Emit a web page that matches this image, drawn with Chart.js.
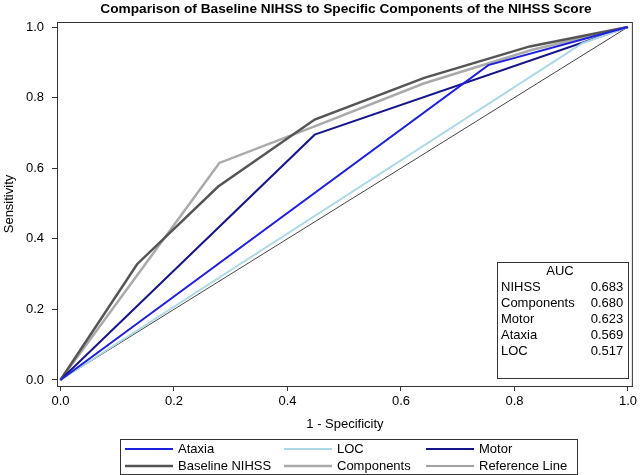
<!DOCTYPE html>
<html>

<head>
    <title>Comparison of Baseline NIHSS</title>
    <meta charset="utf-8">
    <style>
        body { margin: 0; background: #fff; }
    </style>
</head>

<body>
    <canvas id="rocChart" width="640" height="475"></canvas>

    <script src="https://cdn.jsdelivr.net/npm/chart.js"></script>
    <script>
        // ROC curves: x = 1 - specificity, y = sensitivity
        const ataxiaX = [0, 0.754, 1];
        const ataxiaY = [0, 0.892, 1];
        const locX = [0, 0.92, 1];
        const locY = [0, 0.954, 1];
        const motorX = [0, 0.448, 1];
        const motorY = [0, 0.695, 1];
        const nihssX = [0, 0.135, 0.278, 0.448, 0.641, 0.827, 1];
        const nihssY = [0, 0.328, 0.548, 0.738, 0.856, 0.945, 1];
        const compX = [0, 0.28, 0.45, 0.64, 0.83, 1];
        const compY = [0, 0.615, 0.72, 0.84, 0.935, 1];
        const refX = [0, 1];
        const refY = [0, 1];

        const seriesNames = ["Ataxia", "LOC", "Motor", "Baseline NIHSS", "Components", "Reference Line"];

        // AUC inset table
        const aucLabels = ["NIHSS", "Components", "Motor", "Ataxia", "LOC"];
        const aucValues = ["0.683", "0.680", "0.623", "0.569", "0.517"];

        const tickValues = [0, 0.2, 0.4, 0.6, 0.8, 1.0];

        const FONT = "'Liberation Sans', Arial, sans-serif";

        function pts(xs, ys) {
            return xs.map((x, i) => ({ x: x, y: ys[i] }));
        }

        function line(label, xs, ys, color, width) {
            return {
                label: label,
                data: pts(xs, ys),
                showLine: true,
                borderColor: color,
                backgroundColor: color,
                borderWidth: width,
                pointRadius: 0,
                tension: 0
            };
        }

        // title, frame, axis titles, legend and AUC box
        const decorations = {
            id: "decorations",
            afterDraw(chart) {
                const ctx = chart.ctx;
                const a = chart.chartArea;
                ctx.save();

                // frame round the plot
                ctx.strokeStyle = "#333";
                ctx.lineWidth = 1;
                ctx.strokeRect(a.left + 0.5, a.top + 0.5, a.right - a.left - 1, a.bottom - a.top);

                // title
                ctx.fillStyle = "#000";
                ctx.textAlign = "center";
                ctx.textBaseline = "middle";
                ctx.font = "bold 13.7px " + FONT;
                ctx.fillText("Comparison of Baseline NIHSS to Specific Components of the NIHSS Score", 346, 9);

                // axis titles
                ctx.font = "13px " + FONT;
                ctx.fillText("1 - Specificity", (a.left + a.right) / 2, 424);
                ctx.save();
                ctx.translate(9, (a.top + a.bottom) / 2);
                ctx.rotate(-Math.PI / 2);
                ctx.fillText("Sensitivity", 0, 0);
                ctx.restore();

                // AUC inset
                ctx.strokeStyle = "#333";
                ctx.strokeRect(497.5, 262.5, 131, 116);
                ctx.fillText("AUC", 560, 271);
                aucLabels.forEach((lab, i) => {
                    const y = 287 + i * 16;
                    ctx.textAlign = "left";
                    ctx.fillText(lab, 501, y);
                    ctx.textAlign = "center";
                    ctx.fillText(aucValues[i], 607, y);
                });

                // legend
                ctx.strokeStyle = "#333";
                ctx.strokeRect(120.5, 439.5, 457, 35);
                const colX = [125, 284, 426];
                const rowY = [449, 466];
                chart.data.datasets.forEach((ds, i) => {
                    const cx = colX[i % 3];
                    const cy = rowY[Math.floor(i / 3)];
                    ctx.strokeStyle = ds.borderColor;
                    ctx.lineWidth = ds.borderWidth;
                    ctx.beginPath();
                    ctx.moveTo(cx, cy);
                    ctx.lineTo(cx + 48, cy);
                    ctx.stroke();
                    ctx.textAlign = "left";
                    ctx.fillStyle = "#000";
                    ctx.fillText(ds.label, cx + 53, cy);
                });

                ctx.restore();
            }
        };

        const ctx = document.getElementById("rocChart");

        const chart = new Chart(ctx, {
            type: "scatter",
            data: {
                datasets: [
                    line(seriesNames[0], ataxiaX, ataxiaY, "#1f1fe0", 2),
                    line(seriesNames[1], locX, locY, "#add8e6", 2),
                    line(seriesNames[2], motorX, motorY, "#16168a", 2),
                    line(seriesNames[3], nihssX, nihssY, "#555555", 2.5),
                    line(seriesNames[4], compX, compY, "#aaaaaa", 2.5),
                    line(seriesNames[5], refX, refY, "#444444", 1)
                ]
            },
            options: {
                responsive: false,
                animation: false,
                layout: { padding: { left: 0, top: 22, right: 3, bottom: 0 } },
                plugins: {
                    legend: { display: false },
                    title: { display: false },
                    tooltip: { enabled: false }
                },
                scales: {
                    x: {
                        type: "linear",
                        position: "bottom",
                        min: -0.0061,
                        max: 1.0087,
                        afterFit: s => { s.height = 89; },
                        afterBuildTicks: s => { s.ticks = tickValues.map(v => ({ value: v })); },
                        grid: { drawOnChartArea: false, drawTicks: true, tickLength: 5, color: "#333" },
                        border: { display: true, color: "#333" },
                        ticks: {
                            padding: 3,
                            color: "#000",
                            font: { family: FONT, size: 13 },
                            callback: v => v.toFixed(1)
                        }
                    },
                    y: {
                        type: "linear",
                        min: -0.017,
                        max: 1.0142,
                        afterFit: s => { s.width = 57; },
                        afterBuildTicks: s => { s.ticks = tickValues.map(v => ({ value: v })); },
                        grid: { drawOnChartArea: false, drawTicks: true, tickLength: 5, color: "#333" },
                        border: { display: true, color: "#333" },
                        ticks: {
                            padding: 8,
                            color: "#000",
                            font: { family: FONT, size: 13 },
                            callback: v => v.toFixed(1)
                        }
                    }
                }
            },
            plugins: [decorations]
        });
    </script>
</body>

</html>
